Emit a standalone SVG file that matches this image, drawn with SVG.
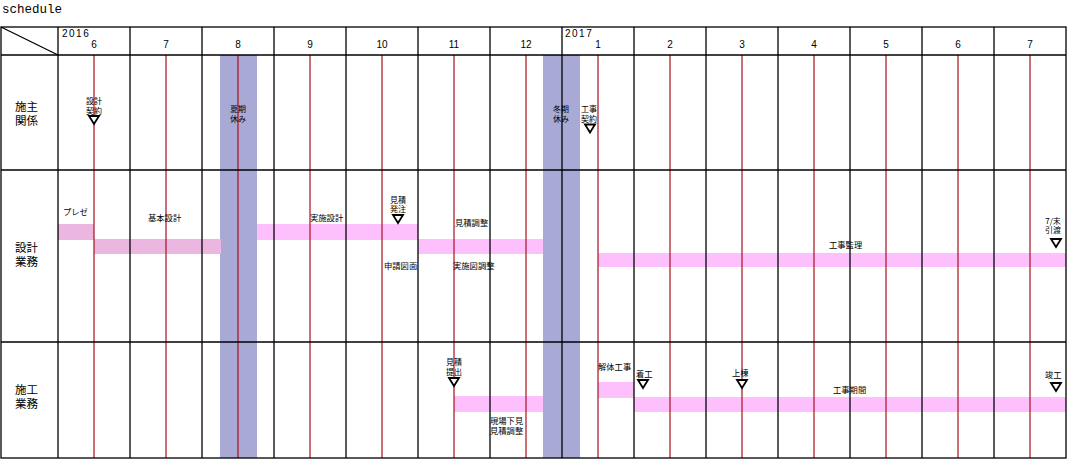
<svg xmlns="http://www.w3.org/2000/svg" width="1070" height="470" viewBox="0 0 1070 470">
<style>
.grid{stroke:#000;stroke-width:1.3;fill:none}
.red{stroke:#a8101a;stroke-width:1.2}
.band{fill:#a9a9d6}
.barA{fill:#ebb6df}
.barB{fill:#fdc0fd}
.mon{font-family:"Liberation Sans",Arial,sans-serif;font-size:10px;fill:#000;text-anchor:middle}
.yr{font-family:"Liberation Sans",Arial,sans-serif;font-size:10px;fill:#000;letter-spacing:1.5px}
.row{font-family:"Noto Sans CJK JP","Noto Sans",sans-serif;font-size:11.5px;fill:#000}
.lb{font-family:"Noto Sans CJK JP","Noto Sans",sans-serif;font-size:8.3px;fill:#000}
.lbc{font-family:"Noto Sans CJK JP","Noto Sans",sans-serif;font-size:8px;fill:#000;text-anchor:middle}
.tri{fill:#fff;stroke:#000;stroke-width:1.8;stroke-linejoin:miter}
.title{font-family:"Liberation Mono","DejaVu Sans Mono",monospace;font-size:12.5px;fill:#000}
</style>
<defs>
<path id="tri" d="M-5,0 L5,0 L0,8 Z"/>
</defs>
<rect width="1070" height="470" fill="#fff"/>
<text class="title" x="2" y="13">schedule</text>

<g id="bands">
<rect class="band" x="220" y="55" width="37" height="403"/>
<rect class="band" x="543" y="55" width="37" height="403"/>
</g>

<g id="bars">
<rect class="barA" x="58" y="224" width="36" height="16"/>
<rect class="barA" x="94" y="239" width="127" height="15"/>
<rect class="barB" x="257" y="224" width="161" height="16"/>
<rect class="barB" x="418" y="239" width="125" height="15"/>
<rect class="barB" x="598" y="253" width="468" height="14"/>
<rect class="barB" x="454" y="396" width="89" height="16"/>
<rect class="barB" x="598" y="382" width="36" height="16"/>
<rect class="barB" x="634" y="397" width="432" height="15"/>
</g>

<g id="connectors">
<g class="red">
<line x1="94" y1="55" x2="94" y2="458"/>
<line x1="166" y1="55" x2="166" y2="458"/>
<line x1="238" y1="55" x2="238" y2="458"/>
<line x1="310" y1="55" x2="310" y2="458"/>
<line x1="382" y1="55" x2="382" y2="458"/>
<line x1="454" y1="55" x2="454" y2="458"/>
<line x1="526" y1="55" x2="526" y2="458"/>
<line x1="598" y1="55" x2="598" y2="458"/>
<line x1="670" y1="55" x2="670" y2="458"/>
<line x1="742" y1="55" x2="742" y2="458"/>
<line x1="814" y1="55" x2="814" y2="458"/>
<line x1="886" y1="55" x2="886" y2="458"/>
<line x1="958" y1="55" x2="958" y2="458"/>
<line x1="1030" y1="55" x2="1030" y2="458"/>
</g>
<g class="grid">
<rect x="1" y="27" width="1065" height="431"/>
<line x1="1" y1="55" x2="1066" y2="55"/>
<line x1="1" y1="170" x2="1066" y2="170"/>
<line x1="1" y1="342" x2="1066" y2="342"/>
<line x1="1" y1="27" x2="58" y2="55"/>
<line x1="58" y1="27" x2="58" y2="458"/>
<line x1="130" y1="27" x2="130" y2="458"/>
<line x1="202" y1="27" x2="202" y2="458"/>
<line x1="274" y1="27" x2="274" y2="458"/>
<line x1="346" y1="27" x2="346" y2="458"/>
<line x1="418" y1="27" x2="418" y2="458"/>
<line x1="490" y1="27" x2="490" y2="458"/>
<line x1="562" y1="27" x2="562" y2="458"/>
<line x1="634" y1="27" x2="634" y2="458"/>
<line x1="706" y1="27" x2="706" y2="458"/>
<line x1="778" y1="27" x2="778" y2="458"/>
<line x1="850" y1="27" x2="850" y2="458"/>
<line x1="922" y1="27" x2="922" y2="458"/>
<line x1="994" y1="27" x2="994" y2="458"/>
</g>
</g>

<g id="header">
<text class="yr" x="62" y="37">2016</text>
<text class="yr" x="565" y="37">2017</text>
<text class="mon" x="94" y="48">6</text>
<text class="mon" x="166" y="48">7</text>
<text class="mon" x="238" y="48">8</text>
<text class="mon" x="310" y="48">9</text>
<text class="mon" x="382" y="48">10</text>
<text class="mon" x="454" y="48">11</text>
<text class="mon" x="526" y="48">12</text>
<text class="mon" x="598" y="48">1</text>
<text class="mon" x="670" y="48">2</text>
<text class="mon" x="742" y="48">3</text>
<text class="mon" x="814" y="48">4</text>
<text class="mon" x="886" y="48">5</text>
<text class="mon" x="958" y="48">6</text>
<text class="mon" x="1030" y="48">7</text>
</g>

<g id="row-owner">
<text class="row" x="15" y="111">施主<tspan x="15" dy="14">関係</tspan></text>
<g id="owner-design-contract">
<text class="lbc" x="94" y="104">設計<tspan x="94" dy="9.5">契約</tspan></text>
<use href="#tri" class="tri" x="94" y="116"/>
</g>
<g id="summer-break">
<text class="lbc" x="238" y="112">夏期<tspan x="238" dy="9.5">休み</tspan></text>
</g>
<g id="winter-break">
<text class="lbc" x="561" y="112">冬期<tspan x="561" dy="9.5">休み</tspan></text>
</g>
<g id="owner-construction-contract">
<text class="lbc" x="589" y="112">工事<tspan x="589" dy="9.5">契約</tspan></text>
<use href="#tri" class="tri" x="590" y="124.5"/>
</g>
</g>

<g id="row-design">
<text class="row" x="15" y="252">設計<tspan x="15" dy="14">業務</tspan></text>
<text class="lb" x="63" y="215">プレゼ</text>
<text class="lb" x="148" y="221">基本設計</text>
<text class="lb" x="310" y="221">実施設計</text>
<g id="estimate-order">
<text class="lbc" x="398" y="202.5">見積<tspan x="398" dy="9.5">発注</tspan></text>
<use href="#tri" class="tri" x="398" y="215"/>
</g>
<text class="lb" x="455" y="226">見積調整</text>
<text class="lb" x="384" y="269">申請図面</text>
<text class="lb" x="453" y="269">実施図調整</text>
<text class="lb" x="829" y="248">工事監理</text>
<g id="handover">
<text class="lbc" x="1053" y="223.5">7/末<tspan x="1053" dy="9.5">引渡</tspan></text>
<use href="#tri" class="tri" x="1056" y="239"/>
</g>
</g>

<g id="row-construction">
<text class="row" x="15" y="394">施工<tspan x="15" dy="14">業務</tspan></text>
<g id="estimate-submit">
<text class="lbc" x="454" y="365">見積<tspan x="454" dy="9.5">提出</tspan></text>
<use href="#tri" class="tri" x="454" y="378"/>
</g>
<text class="lb" x="490" y="423.5">現場下見<tspan x="490" dy="10">見積調整</tspan></text>
<text class="lb" x="598" y="370">解体工事</text>
<g id="start">
<text class="lb" x="636" y="377">着工</text>
<use href="#tri" class="tri" x="643" y="380"/>
</g>
<g id="topping-out">
<text class="lb" x="732" y="376">上棟</text>
<use href="#tri" class="tri" x="742" y="380"/>
</g>
<text class="lb" x="833" y="393">工事期間</text>
<g id="completion">
<text class="lb" x="1045" y="378">竣工</text>
<use href="#tri" class="tri" x="1056" y="383"/>
</g>
</g>
</svg>
